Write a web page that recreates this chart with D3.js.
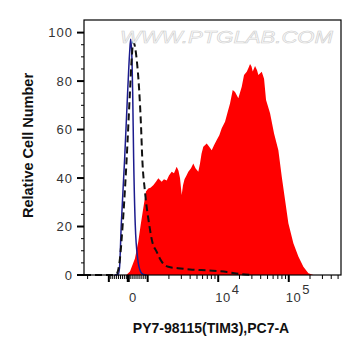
<!DOCTYPE html>
<html><head><meta charset="utf-8">
<script src="https://cdn.jsdelivr.net/npm/d3@7"></script>
<style>body{margin:0;background:#fff}svg{display:block}</style>
</head><body>
<svg id="c" width="361" height="356"></svg>
<script>
// ---- data ----
const yTicks = [0, 20, 40, 60, 80, 100];
const xTickLabels = [{v: 0, base: "0", sup: ""}, {v: 10000, base: "10", sup: "4"}, {v: 100000, base: "10", sup: "5"}];
const xMajorTicks = [-1000, 0, 1000, 10000, 100000];
const xDomain = [-2250, 550000];
const yMax = 105.2;

// stained sample (red filled)
const redX = [-100, 88, 345, 515, 639, 773, 912, 1020, 1096, 1200, 1311, 1414, 1580, 1703, 1860, 2005, 2190, 2360, 2578, 2734, 2872, 3035, 3168, 3327, 3550, 3767, 4114, 4435, 4764, 5221, 5517, 5798, 6146, 6867, 7405, 8086, 8719, 9522, 10366, 11210, 12489, 13550, 14700, 16060, 17310, 19280, 21540, 23220, 25370, 26910, 28250, 29670, 30850, 33270, 35510, 37050, 41400, 44640, 47640, 54290, 61870, 71200, 79570, 88620, 98700, 116200, 136800, 161100, 189700, 223300];
const redY = [0, 1.4, 6.8, 13.7, 20.6, 27.5, 34.4, 35.7, 36, 37, 38.5, 39.9, 38.5, 39.5, 39, 41, 42.6, 42, 44.7, 43, 40, 33, 37, 39.5, 41, 42.6, 44, 46, 44, 42.6, 46, 50, 52.9, 54.2, 53, 51.5, 53.5, 55.7, 57.7, 60.5, 63.2, 67, 70.8, 76.3, 75.5, 72.9, 77.7, 82.5, 83.8, 85.5, 87, 86, 84, 86.2, 84.5, 82.5, 83.8, 81, 72.2, 66.7, 58.4, 51.5, 40.5, 30.9, 21.3, 13.1, 7.6, 3.4, 0.7, 0];

// isotype / blank (blue solid)
const blueX = [-700, -515, -450, -361, -186, -31, 72, 124, 191, 227, 278, 361, 484, 639, 758, 948];
const blueY = [0, 0.3, 3, 20.6, 48, 75.6, 92, 97.3, 89, 75.6, 48, 20.6, 6.8, 1.3, 0.3, 0];

// unstained control (black dashed)
const dashX = [-2250, -800, -598, -428, -289, -82, 88, 175, 258, 433, 567, 655, 722, 861, 1054, 1162, 1341, 1580, 1960, 2690, 3981, 8437, 13330, 20380, 30000];
const dashY = [0, 0, 0.5, 6.8, 20.6, 48, 75.6, 89, 96.2, 89, 75.6, 61.9, 48, 34.4, 20.6, 13.7, 9.6, 5.5, 3.4, 2.8, 2.3, 1.8, 1.2, 0.4, 0];

// ---- scales ----
const L = 0.2752; // linear region width (decades) for |v|<=1000
function T(v) {
  const a = Math.abs(v);
  if (a <= 1000) return v / 1000 * L;
  return Math.sign(v) * (L + Math.log10(a / 1000));
}
const pLeft = 84, pRight = 341, pTop = 20, pBottom = 275;
const xT = d3.scaleLinear().domain([T(xDomain[0]), T(xDomain[1])]).range([pLeft, pRight]);
const x = v => xT(T(v));
const y = d3.scaleLinear().domain([0, yMax]).range([pBottom, pTop]);

const svg = d3.select("#c");
const g = svg.append("g");

// watermark
svg.append("text").attr("x", 120).attr("y", 43)
  .attr("textLength", 213).attr("lengthAdjust", "spacingAndGlyphs")
  .attr("font-family", "Liberation Sans, Arial, sans-serif").attr("font-size", 17)
  .attr("font-style", "italic")
  .attr("fill", "#fafafa").attr("stroke", "#cfcfcf").attr("stroke-width", 0.55)
  .text("WWW.PTGLAB.COM");

// red area
const redData = redX.map((v, i) => [v, redY[i]]);
g.append("path").datum(redData)
  .attr("d", d3.area().x(d => x(d[0])).y0(y(0)).y1(d => y(d[1])))
  .attr("fill", "#ff0000");

// blue line
const blueData = blueX.map((v, i) => [v, blueY[i]]);
g.append("path").datum(blueData)
  .attr("d", d3.line().x(d => x(d[0])).y(d => y(d[1])).curve(d3.curveMonotoneX))
  .attr("fill", "none").attr("stroke", "#1c1c8e").attr("stroke-width", 1.5);

// dashed line
const dashData = dashX.map((v, i) => [v, dashY[i]]);
g.append("path").datum(dashData)
  .attr("d", d3.line().x(d => x(d[0])).y(d => y(d[1])).curve(d3.curveMonotoneX))
  .attr("fill", "none").attr("stroke", "#111").attr("stroke-width", 2)
  .attr("stroke-dasharray", "7,4");

// frame
svg.append("rect").attr("x", pLeft).attr("y", pTop).attr("width", pRight - pLeft).attr("height", pBottom - pTop)
  .attr("fill", "none").attr("stroke", "#000").attr("stroke-width", 1.2);

// y axis ticks
const yMinor = d3.range(0, 105, 5).filter(v => v % 20 !== 0);
svg.selectAll(".ymin").data(yMinor).enter().append("line")
  .attr("x1", pLeft - 3).attr("x2", pLeft).attr("y1", d => y(d)).attr("y2", d => y(d))
  .attr("stroke", "#000").attr("stroke-width", 1);
svg.selectAll(".ymaj").data(yTicks).enter().append("line")
  .attr("x1", pLeft - 7).attr("x2", pLeft).attr("y1", d => y(d)).attr("y2", d => y(d))
  .attr("stroke", "#000").attr("stroke-width", 2);
svg.selectAll(".ylab").data(yTicks).enter().append("text")
  .attr("x", 73).attr("y", d => y(d)).attr("dy", "0.36em")
  .attr("text-anchor", "end").attr("font-family", "Liberation Sans, Arial, sans-serif")
  .attr("font-size", 13).attr("letter-spacing", 1).attr("fill", "#333").text(d => d);

// x axis ticks
const xMinor = [];
for (let v = -900; v <= 900; v += 100) if (v !== 0) xMinor.push(v);
for (let d = 1000; d <= 100000; d *= 10) for (let k = 2; k <= 9; k++) if (d * k < xDomain[1]) xMinor.push(d * k);
xMinor.push(-2000);
svg.selectAll(".xmin").data(xMinor).enter().append("line")
  .attr("x1", d => x(d)).attr("x2", d => x(d)).attr("y1", pBottom).attr("y2", pBottom + 4)
  .attr("stroke", "#000").attr("stroke-width", 1);
svg.selectAll(".xmaj").data(xMajorTicks).enter().append("line")
  .attr("x1", d => x(d)).attr("x2", d => x(d)).attr("y1", pBottom).attr("y2", pBottom + 7)
  .attr("stroke", "#000").attr("stroke-width", d => d === 0 ? 3 : 2);
const xl = svg.selectAll(".xlab").data(xTickLabels).enter().append("text")
  .attr("x", d => d.sup ? x(d.v) - 3 : x(d.v) + 4.5).attr("y", 302)
  .attr("text-anchor", d => d.sup ? "start" : "middle")
  .attr("font-family", "Liberation Sans, Arial, sans-serif").attr("font-size", 13)
  .attr("letter-spacing", 0.5).attr("fill", "#333");
xl.append("tspan").text(d => d.base);
xl.append("tspan").attr("dy", -8).attr("dx", 1).text(d => d.sup);

// axis titles
svg.append("text").attr("x", 211).attr("y", 333).attr("text-anchor", "middle")
  .attr("font-family", "Liberation Sans, Arial, sans-serif").attr("font-weight", "bold")
  .attr("font-size", 14).attr("fill", "#111").text("PY7-98115(TIM3),PC7-A");
svg.append("text").attr("transform", "translate(33,145.5) rotate(-90)").attr("text-anchor", "middle")
  .attr("font-family", "Liberation Sans, Arial, sans-serif").attr("font-weight", "bold")
  .attr("font-size", 14.5).attr("fill", "#111").text("Relative Cell Number");
</script>
</body></html>
